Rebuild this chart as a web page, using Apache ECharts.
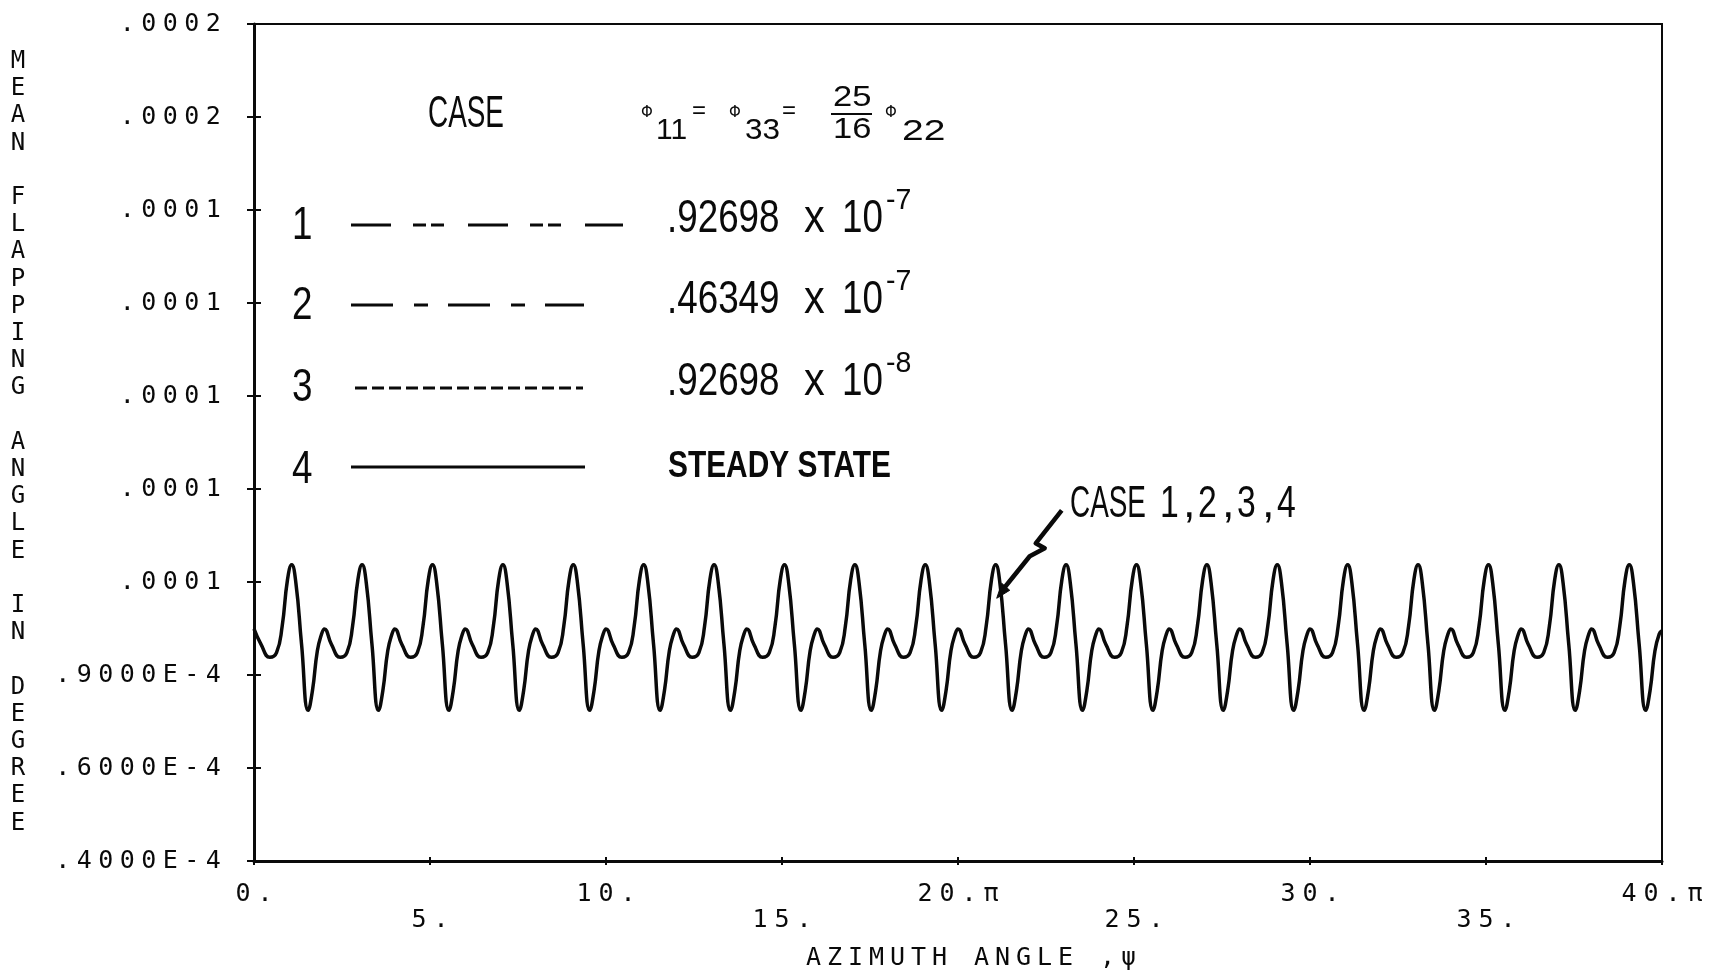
<!DOCTYPE html>
<html>
<head>
<meta charset="utf-8">
<script src="https://cdn.jsdelivr.net/npm/echarts@6/dist/echarts.min.js"></script>
<style>
  html, body { margin: 0; padding: 0; background: #fff; }
  #chart { width: 1719px; height: 977px; }
</style>
</head>
<body>
<div id="chart"></div>
<script>
// Azimuth angle (axis units) for each sampled point of the flapping response
const azimuth = [
  0, 0.2, 0.45, 0.64, 0.8, 0.95, 1.07, 1.19, 1.35, 1.54, 1.66, 1.8, 1.92,
  2, 2.2, 2.45, 2.64, 2.8, 2.95, 3.07, 3.19, 3.35, 3.54, 3.66, 3.8, 3.92,
  4, 4.2, 4.45, 4.64, 4.8, 4.95, 5.07, 5.19, 5.35, 5.54, 5.66, 5.8, 5.92,
  6, 6.2, 6.45, 6.64, 6.8, 6.95, 7.07, 7.19, 7.35, 7.54, 7.66, 7.8, 7.92,
  8, 8.2, 8.45, 8.64, 8.8, 8.95, 9.07, 9.19, 9.35, 9.54, 9.66, 9.8, 9.92,
  10, 10.2, 10.45, 10.64, 10.8, 10.95, 11.07, 11.19, 11.35, 11.54, 11.66, 11.8, 11.92,
  12, 12.2, 12.45, 12.64, 12.8, 12.95, 13.07, 13.19, 13.35, 13.54, 13.66, 13.8, 13.92,
  14, 14.2, 14.45, 14.64, 14.8, 14.95, 15.07, 15.19, 15.35, 15.54, 15.66, 15.8, 15.92,
  16, 16.2, 16.45, 16.64, 16.8, 16.95, 17.07, 17.19, 17.35, 17.54, 17.66, 17.8, 17.92,
  18, 18.2, 18.45, 18.64, 18.8, 18.95, 19.07, 19.19, 19.35, 19.54, 19.66, 19.8, 19.92,
  20, 20.2, 20.45, 20.64, 20.8, 20.95, 21.07, 21.19, 21.35, 21.54, 21.66, 21.8, 21.92,
  22, 22.2, 22.45, 22.64, 22.8, 22.95, 23.07, 23.19, 23.35, 23.54, 23.66, 23.8, 23.92,
  24, 24.2, 24.45, 24.64, 24.8, 24.95, 25.07, 25.19, 25.35, 25.54, 25.66, 25.8, 25.92,
  26, 26.2, 26.45, 26.64, 26.8, 26.95, 27.07, 27.19, 27.35, 27.54, 27.66, 27.8, 27.92,
  28, 28.2, 28.45, 28.64, 28.8, 28.95, 29.07, 29.19, 29.35, 29.54, 29.66, 29.8, 29.92,
  30, 30.2, 30.45, 30.64, 30.8, 30.95, 31.07, 31.19, 31.35, 31.54, 31.66, 31.8, 31.92,
  32, 32.2, 32.45, 32.64, 32.8, 32.95, 33.07, 33.19, 33.35, 33.54, 33.66, 33.8, 33.92,
  34, 34.2, 34.45, 34.64, 34.8, 34.95, 35.07, 35.19, 35.35, 35.54, 35.66, 35.8, 35.92,
  36, 36.2, 36.45, 36.64, 36.8, 36.95, 37.07, 37.19, 37.35, 37.54, 37.66, 37.8, 37.92,
  38, 38.2, 38.45, 38.64, 38.8, 38.95, 39.07, 39.19, 39.35, 39.54, 39.66, 39.8, 39.92,
  40
];

// Mean flapping angle, in units of 1e-4 degree (cases 1-4 coincide)
const flappingE4 = [
  0.899, 0.866, 0.838, 0.848, 0.905, 1.004, 1.037, 0.998, 0.867, 0.724, 0.766, 0.852, 0.888,
  0.899, 0.866, 0.838, 0.848, 0.905, 1.004, 1.037, 0.998, 0.867, 0.724, 0.766, 0.852, 0.888,
  0.899, 0.866, 0.838, 0.848, 0.905, 1.004, 1.037, 0.998, 0.867, 0.724, 0.766, 0.852, 0.888,
  0.899, 0.866, 0.838, 0.848, 0.905, 1.004, 1.037, 0.998, 0.867, 0.724, 0.766, 0.852, 0.888,
  0.899, 0.866, 0.838, 0.848, 0.905, 1.004, 1.037, 0.998, 0.867, 0.724, 0.766, 0.852, 0.888,
  0.899, 0.866, 0.838, 0.848, 0.905, 1.004, 1.037, 0.998, 0.867, 0.724, 0.766, 0.852, 0.888,
  0.899, 0.866, 0.838, 0.848, 0.905, 1.004, 1.037, 0.998, 0.867, 0.724, 0.766, 0.852, 0.888,
  0.899, 0.866, 0.838, 0.848, 0.905, 1.004, 1.037, 0.998, 0.867, 0.724, 0.766, 0.852, 0.888,
  0.899, 0.866, 0.838, 0.848, 0.905, 1.004, 1.037, 0.998, 0.867, 0.724, 0.766, 0.852, 0.888,
  0.899, 0.866, 0.838, 0.848, 0.905, 1.004, 1.037, 0.998, 0.867, 0.724, 0.766, 0.852, 0.888,
  0.899, 0.866, 0.838, 0.848, 0.905, 1.004, 1.037, 0.998, 0.867, 0.724, 0.766, 0.852, 0.888,
  0.899, 0.866, 0.838, 0.848, 0.905, 1.004, 1.037, 0.998, 0.867, 0.724, 0.766, 0.852, 0.888,
  0.899, 0.866, 0.838, 0.848, 0.905, 1.004, 1.037, 0.998, 0.867, 0.724, 0.766, 0.852, 0.888,
  0.899, 0.866, 0.838, 0.848, 0.905, 1.004, 1.037, 0.998, 0.867, 0.724, 0.766, 0.852, 0.888,
  0.899, 0.866, 0.838, 0.848, 0.905, 1.004, 1.037, 0.998, 0.867, 0.724, 0.766, 0.852, 0.888,
  0.899, 0.866, 0.838, 0.848, 0.905, 1.004, 1.037, 0.998, 0.867, 0.724, 0.766, 0.852, 0.888,
  0.899, 0.866, 0.838, 0.848, 0.905, 1.004, 1.037, 0.998, 0.867, 0.724, 0.766, 0.852, 0.888,
  0.899, 0.866, 0.838, 0.848, 0.905, 1.004, 1.037, 0.998, 0.867, 0.724, 0.766, 0.852, 0.888,
  0.899, 0.866, 0.838, 0.848, 0.905, 1.004, 1.037, 0.998, 0.867, 0.724, 0.766, 0.852, 0.888,
  0.899, 0.866, 0.838, 0.848, 0.905, 1.004, 1.037, 0.998, 0.867, 0.724, 0.766, 0.852, 0.888,
  0.895
];

// Tick labels as printed by the plotter
const yTickLabels = ['.4000E-4', '.6000E-4', '.9000E-4', '.0001', '.0001', '.0001', '.0001', '.0001', '.0002', '.0002'];
const xTickLabels = ['0.', '5.', '10.', '15.', '20.π', '25.', '30.', '35.', '40.π'];

// Key entries
const caseIds = ['1', '2', '3', '4'];
const caseMantissas = ['.92698', '.46349', '.92698'];
const caseExponents = ['-7', '-7', '-8'];
const steadyLabel = 'STEADY STATE';
const calloutWord = 'CASE';
const calloutCases = ['1', ',', '2', ',', '3', ',', '4'];

const xTitle = 'AZIMUTH ANGLE ,ψ';
const yTitle = 'MEAN FLAPPING ANGLE IN DEGREE';

const INK = '#0a0a0a';
const MONO = "'DejaVu Sans Mono', 'Liberation Mono', monospace";
const SANS = "'Liberation Sans', Arial, sans-serif";

// Spread text out letter by letter like a pen plotter
const spaced = (s, key) => Array.from(s).map(ch => '{' + key + '|' + ch + '}').join('');

const plotterChar = (w, size) => ({ fontFamily: MONO, fontSize: size || 25, width: w, align: 'center', lineHeight: 22, color: INK });

const pairs = azimuth.map((x, i) => [x, flappingE4[i]]);

const Y_MIN = 0.4, Y_STEP = 0.2;

function text(x, y, str, size, opt) {
  opt = opt || {};
  return {
    type: 'text', x: x, y: y, scaleX: opt.sx || 1, silent: true, z: 10,
    style: {
      text: str, fill: INK,
      fontFamily: opt.family || SANS, fontSize: size, fontWeight: opt.weight || 'normal',
      align: 'left', verticalAlign: 'middle', textAlign: 'left', textVerticalAlign: 'middle'
    }
  };
}
function seg(x1, y1, x2, y2, dash, w) {
  return {
    type: 'line', silent: true, z: 10,
    shape: { x1: x1, y1: y1, x2: x2, y2: y2 },
    style: { stroke: INK, lineWidth: w || 3, lineDash: dash || null }
  };
}

// Key block: heading, formula, four case rows
const keyRows = [224, 304, 386, 468];
const keyLineY = [225, 305, 388, 467];
const keyLineX = [[351, 623], [351, 584], [355, 583], [351, 585]];
const keyDash = [[40, 22, 13, 5, 13, 24], [42, 21, 14, 20], [12, 5], null];
const valueY = [217, 298, 380];

const keyGraphics = [];
keyGraphics.push(text(428, 115, 'CASE', 45, { sx: 0.62 }));
// Φ11 = Φ33 = 25/16 Φ22
keyGraphics.push(text(641, 113, 'Φ', 15, { family: "'DejaVu Sans', sans-serif" }));
keyGraphics.push(text(656, 131, '11', 30));
keyGraphics.push(text(692, 111, '=', 24));
keyGraphics.push(text(729, 113, 'Φ', 15, { family: "'DejaVu Sans', sans-serif" }));
keyGraphics.push(text(745, 131, '33', 30, { sx: 1.05 }));
keyGraphics.push(text(782, 111, '=', 24));
keyGraphics.push(text(833, 98, '25', 30, { sx: 1.15 }));
keyGraphics.push(seg(831, 114, 872, 114, null, 2));
keyGraphics.push(text(833, 130, '16', 30, { sx: 1.15 }));
keyGraphics.push(text(885, 113, 'Φ', 15, { family: "'DejaVu Sans', sans-serif" }));
keyGraphics.push(text(902, 132, '22', 30, { sx: 1.3 }));

caseIds.forEach((id, i) => {
  keyGraphics.push(text(292, keyRows[i] + 2, id, 46, { sx: 0.8 }));
  keyGraphics.push(seg(keyLineX[i][0], keyLineY[i], keyLineX[i][1], keyLineY[i], keyDash[i], 3));
  if (i < caseMantissas.length) {
    keyGraphics.push(text(667, valueY[i] + 2, caseMantissas[i], 46, { sx: 0.8 }));
    keyGraphics.push(text(804, valueY[i] + 2, 'x', 46, { sx: 0.9 }));
    keyGraphics.push(text(842, valueY[i] + 2, '10', 46, { sx: 0.8 }));
    keyGraphics.push(text(886, valueY[i] - 16, caseExponents[i], 30, { sx: 0.95 }));
  } else {
    keyGraphics.push(text(668, 467, steadyLabel, 36, { sx: 0.83, weight: 'bold' }));
  }
});

// Callout label "CASE 1,2,3,4" in narrow lettering
keyGraphics.push(text(1070, 505, calloutWord, 45, { sx: 0.62 }));
const calloutX = [1160, 1183, 1198, 1222, 1237, 1262, 1277];
calloutCases.forEach((ch, i) => {
  keyGraphics.push(text(calloutX[i], 505, ch, 45, { sx: ch === ',' ? 1 : 0.75 }));
});

const option = {
  backgroundColor: '#ffffff',
  animation: false,
  grid: {
    left: 254, right: 57, top: 24, bottom: 116,
    show: true, borderColor: INK, borderWidth: 2, backgroundColor: 'transparent',
    outerBoundsMode: 'none'
  },
  xAxis: [
    {
      type: 'value', min: 0, max: 40, interval: 5, position: 'bottom', offset: 0,
      axisLine: { show: true, onZero: false, lineStyle: { color: INK, width: 3 } },
      axisTick: { show: true, inside: false, length: 4, lineStyle: { color: INK, width: 2 } },
      splitLine: { show: false },
      axisLabel: {
        margin: 22,
        formatter: (v) => { const i = Math.round(v / 5); return i % 2 === 0 ? spaced(xTickLabels[i], 'c') : ''; },
        rich: { c: plotterChar(22) }
      },
      name: spaced(xTitle, 'c'),
      nameLocation: 'middle', nameGap: 86,
      nameTextStyle: { rich: { c: plotterChar(21) }, padding: [0, 0, 0, 26] }
    },
    {
      type: 'value', min: 0, max: 40, interval: 5, position: 'bottom', offset: 0,
      axisLine: { show: false, onZero: false },
      axisTick: { show: true, inside: true, length: 4, lineStyle: { color: INK, width: 2 } },
      splitLine: { show: false },
      axisLabel: {
        margin: 48,
        formatter: (v) => { const i = Math.round(v / 5); return i % 2 === 1 ? spaced(xTickLabels[i], 'c') : ''; },
        rich: { c: plotterChar(22) }
      }
    }
  ],
  yAxis: [
    {
      type: 'value', min: Y_MIN, max: 2.2, interval: Y_STEP, position: 'left', offset: 0,
      axisLine: { show: true, onZero: false, lineStyle: { color: INK, width: 3 } },
      axisTick: { show: true, inside: false, length: 7, lineStyle: { color: INK, width: 2 } },
      splitLine: { show: false },
      axisLabel: {
        margin: 30,
        formatter: (v) => spaced(yTickLabels[Math.round((v - Y_MIN) / Y_STEP)], 'c'),
        rich: { c: plotterChar(21.5) }
      },
      name: Array.from(yTitle).join('\n'),
      nameLocation: 'middle', nameRotate: 0, nameGap: 236,
      nameTextStyle: {
        fontFamily: MONO, fontSize: 24, lineHeight: 27.2, color: INK,
        align: 'center', verticalAlign: 'middle'
      }
    },
    {
      type: 'value', min: Y_MIN, max: 2.2, interval: Y_STEP, position: 'left', offset: 0,
      axisLine: { show: false, onZero: false },
      axisTick: { show: true, inside: true, length: 7, lineStyle: { color: INK, width: 2 } },
      splitLine: { show: false },
      axisLabel: { show: false }
    }
  ],
  series: [
    {
      name: 'CASE 1,2,3,4',
      type: 'line',
      xAxisIndex: 0, yAxisIndex: 0,
      data: pairs,
      showSymbol: false,
      smooth: true,
      lineStyle: { color: INK, width: 3.5 }
    }
  ],
  graphic: keyGraphics
};

const chart = echarts.init(document.getElementById('chart'), null, { renderer: 'canvas' });
chart.setOption(option);

// Callout arrow pointing at the curve near azimuth 21.1
const tip = chart.convertToPixel({ gridIndex: 0 }, [21.1, 0.965]);
const tx = tip[0], ty = tip[1];
chart.setOption({
  graphic: keyGraphics.concat([
    {
      type: 'polyline', silent: true, z: 10,
      shape: { points: [[tx + 65, ty - 88], [tx + 39, ty - 55], [tx + 48, ty - 50], [tx + 33, ty - 42], [tx + 4, ty - 6]] },
      style: { stroke: INK, lineWidth: 4.5, fill: null, lineJoin: 'round' }
    },
    {
      type: 'polygon', silent: true, z: 10,
      shape: { points: [[tx, ty], [tx + 13, ty - 8], [tx + 5, ty - 15]] },
      style: { fill: INK, stroke: INK, lineWidth: 1 }
    }
  ])
});
</script>
</body>
</html>
